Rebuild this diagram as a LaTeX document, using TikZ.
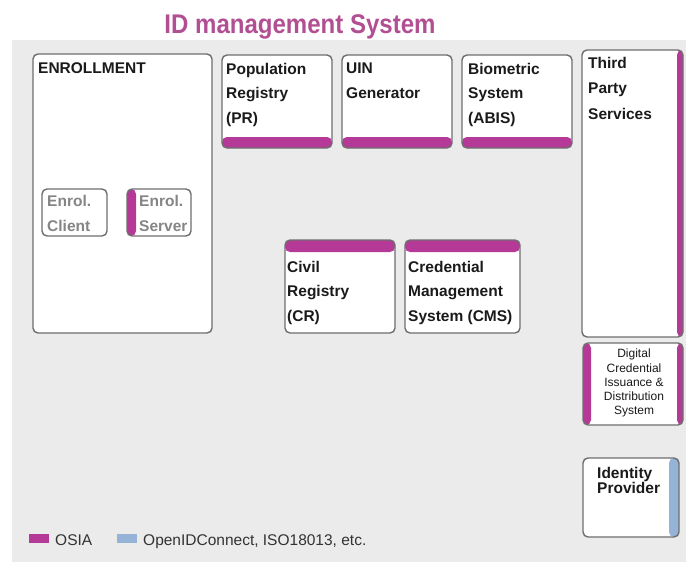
\documentclass[tikz,border=0pt]{standalone}
\usepackage{fontspec}
\setmainfont{Liberation Sans}
\newfontfamily\titlefont[FakeStretch=0.89]{Liberation Sans}

\definecolor{osia}{HTML}{B53A98}
\definecolor{oidc}{HTML}{95B3D7}
\definecolor{titlepink}{HTML}{B24F93}
\definecolor{panel}{HTML}{EBEBEB}
\definecolor{edge}{HTML}{6E6E6E}
\definecolor{ink}{HTML}{1A1A1A}
\definecolor{greyink}{HTML}{858585}
\definecolor{keyink}{HTML}{333333}

\tikzset{
  module/.style={draw=edge, line width=1.4pt, rounded corners=5pt, fill=white,
    inner sep=0pt, outer sep=0pt, anchor=north west},
  bandbottom/.style={path picture={\fill[osia] (path picture bounding box.south west)
    rectangle ([yshift=#1]path picture bounding box.south east);}},
  bandtop/.style={path picture={\fill[osia] (path picture bounding box.north west)
    rectangle ([yshift=-#1]path picture bounding box.north east);}},
  bandleft/.style={path picture={\fill[osia] (path picture bounding box.north west)
    rectangle ([xshift=#1]path picture bounding box.south west);}},
  bandright/.style 2 args={path picture={\fill[#1] ([xshift=-#2]path picture bounding box.north east)
    rectangle (path picture bounding box.south east);}},
  bandsides/.style={path picture={
    \fill[osia] (path picture bounding box.north west)
      rectangle ([xshift=8pt]path picture bounding box.south west);
    \fill[osia] ([xshift=-6pt]path picture bounding box.north east)
      rectangle (path picture bounding box.south east);}},
  lbl/.style={inner sep=0pt, anchor=north west, align=left, text=ink,
    font=\bfseries\fontsize{15.5}{24.5}\selectfont},
  keyswatch/.style={minimum width=20pt, minimum height=9pt, inner sep=0pt, anchor=north west},
  keytext/.style={inner sep=0pt, anchor=base west, text=keyink, font=\fontsize{15.5}{18}\selectfont}
}

\begin{document}
\begin{tikzpicture}[x=1pt,y=-1pt]
\useasboundingbox (0,0) rectangle (686,563);
\fill[panel] (12,40) rectangle (686,562);

% heading
\node[inner sep=0pt, anchor=base, text=titlepink,
      font=\titlefont\bfseries\fontsize{27}{27}\selectfont] (title) at (300,33) {ID management System};

% enrollment block with its two components
\node[module, minimum width=179pt, minimum height=279pt] (enroll) at (33,54) {};
\node[lbl] (enrollT) at (38,62) {ENROLLMENT};
\node[module, minimum width=65pt, minimum height=47pt] (eclient) at (42,189) {};
\node[lbl, text=greyink, font=\bfseries\fontsize{15.5}{25}\selectfont] (eclientT) at (47,195) {Enrol.\\Client};
\node[module, bandleft=9pt, minimum width=64pt, minimum height=47pt] (eserver) at (127,189) {};
\node[lbl, text=greyink, font=\bfseries\fontsize{15.5}{25}\selectfont] (eserverT) at (139,195) {Enrol.\\Server};

% registries and generators, OSIA interface at the bottom
\node[module, bandbottom=11pt, minimum width=110pt, minimum height=93pt] (pr) at (222,55) {};
\node[lbl] (prT) at (226,63) {Population\\Registry\\(PR)};
\node[module, bandbottom=11pt, minimum width=110pt, minimum height=93pt] (uin) at (342,55) {};
\node[lbl] (uinT) at (346,63) {UIN\\Generator};
\node[module, bandbottom=11pt, minimum width=110pt, minimum height=93pt] (abis) at (462,55) {};
\node[lbl] (abisT) at (468,63) {Biometric\\System\\(ABIS)};

% civil registry and credential management, OSIA interface on top
\node[module, bandtop=12pt, minimum width=110pt, minimum height=93pt] (cr) at (285,240) {};
\node[lbl] (crT) at (287,261) {Civil\\Registry\\(CR)};
\node[module, bandtop=12pt, minimum width=115pt, minimum height=93pt] (cms) at (405,240) {};
\node[lbl] (cmsT) at (408,261) {Credential\\Management\\System (CMS)};

% right-hand column
\node[module, bandright={osia}{6pt}, minimum width=101pt, minimum height=287pt] (tps) at (582,50) {};
\node[lbl, font=\bfseries\fontsize{15.5}{25.5}\selectfont] (tpsT) at (588,57) {Third\\Party\\Services};

\node[module, bandsides, minimum width=100pt, minimum height=82pt] (dcids) at (583,343) {};
\node[inner sep=0pt, anchor=north, align=center, text=ink,
      font=\fontsize{12}{14.2}\selectfont] (dcidsT) at (634,349)
      {Digital\\Credential\\Issuance \&\\Distribution\\System};

\node[module, bandright={oidc}{10pt}, minimum width=96pt, minimum height=79pt] (idp) at (583,458) {};
\node[lbl, font=\bfseries\fontsize{15.5}{15.5}\selectfont] (idpT) at (597,467) {Identity\\Provider};

% key
\node[keyswatch, fill=osia] (keyosia) at (29,534) {};
\node[keytext] (keyosiaT) at (55,545) {OSIA};
\node[keyswatch, fill=oidc] (keyoidc) at (117,534) {};
\node[keytext] (keyoidcT) at (143,545) {OpenIDConnect, ISO18013, etc.};
\end{tikzpicture}
\end{document}
